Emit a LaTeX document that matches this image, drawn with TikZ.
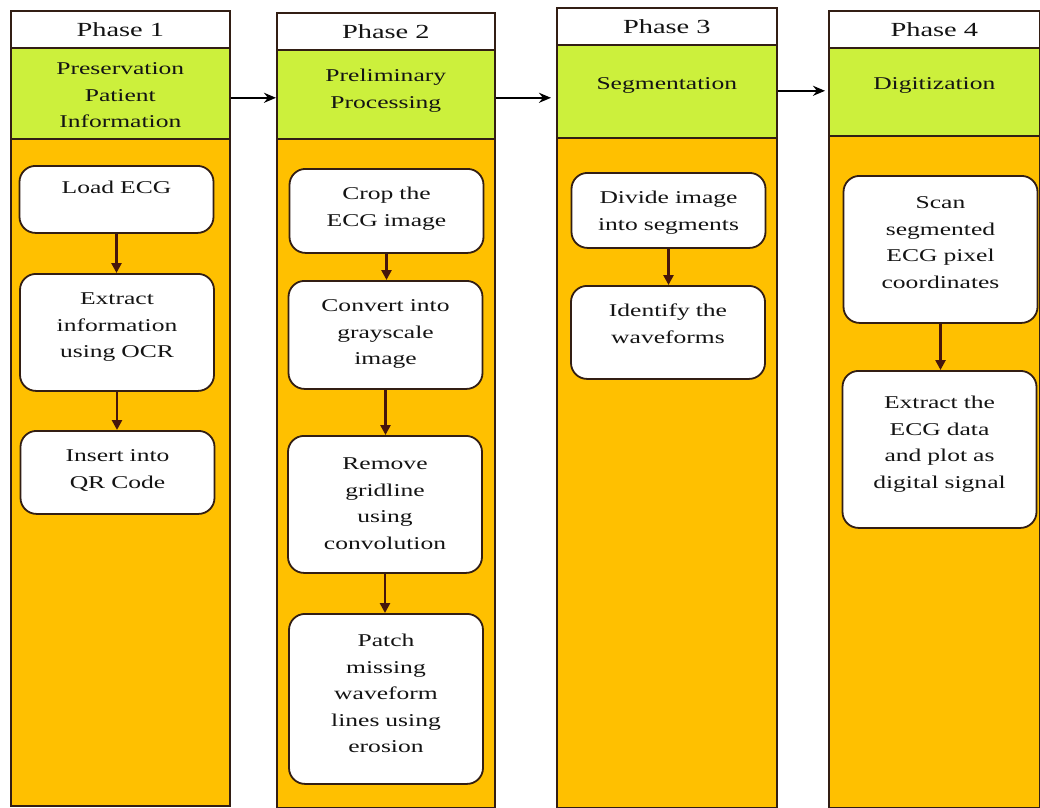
\documentclass[tikz,border=0pt]{standalone}
\usepackage{fontspec}
\setmainfont[FakeStretch=1.42]{Liberation Serif}
\usetikzlibrary{arrows.meta}
\definecolor{lanegold}{RGB}{255,192,0}
\definecolor{stagegreen}{RGB}{204,240,60}
\definecolor{edgebrown}{RGB}{50,30,20}
\definecolor{flowbrown}{RGB}{70,22,12}
\definecolor{inkgray}{RGB}{20,20,20}

\tikzset{
    phase/.style = {draw=edgebrown, fill=white, line width=1.6pt, inner sep=0pt,
                    anchor=north west, minimum height=37pt, text=inkgray,
                    font=\fontsize{20}{24}\selectfont},
    stage/.style = {draw=edgebrown, fill=stagegreen, line width=1.6pt, inner sep=0pt,
                    anchor=north west, align=center, text=inkgray,
                    font=\fontsize{18}{26.5}\selectfont},
    lane/.style  = {draw=edgebrown, fill=lanegold, line width=1.6pt, inner sep=0pt,
                    anchor=north west},
    proc/.style  = {draw=edgebrown, fill=white, line width=1.8pt, rounded corners=16pt,
                    inner sep=0pt, anchor=north, text width=194pt, align=center,
                    text height=31pt, text=inkgray,
                    font=\fontsize{18}{26.5}\selectfont},
    flow/.style  = {draw=flowbrown, line width=2.8pt,
                    -{Triangle[length=10pt, width=10pt]}},
    link/.style  = {draw=black, line width=2.4pt,
                    -{Stealth[length=12pt, width=10pt]}}
}

\begin{document}
\begin{tikzpicture}[x=1pt, y=-1pt]
    \useasboundingbox (0,0) rectangle (1040,807);

    % lanes
    \node[lane, minimum width=219pt, minimum height=667pt] (l1) at (10,138) {};
    \node[lane, minimum width=218pt, minimum height=669pt] (l2) at (276,138) {};
    \node[lane, minimum width=220pt, minimum height=670pt] (l3) at (556,137) {};
    \node[lane, minimum width=211pt, minimum height=672pt] (l4) at (828,135) {};

    % stage titles
    \node[stage, text width=219pt, text height=27pt, text depth=64pt] (s1) at (10,47)
        {Preservation\\Patient\\Information};
    \node[stage, text width=218pt, text height=32pt, text depth=57pt] (s2) at (276,49)
        {Preliminary\\Processing};
    \node[stage, text width=220pt, text height=45pt, text depth=48pt] (s3) at (556,44)
        {Segmentation};
    \node[stage, text width=211pt, text height=44pt, text depth=46pt] (s4) at (828,45)
        {Digitization};

    % phase headers
    \node[phase, minimum width=219pt] (p1) at (10,10) {Phase 1};
    \node[phase, minimum width=218pt] (p2) at (276,12) {Phase 2};
    \node[phase, minimum width=220pt] (p3) at (556,7) {Phase 3};
    \node[phase, minimum width=211pt] (p4) at (828,10) {Phase 4};

    % phase 1
    \node[proc, text height=28pt, text depth=39pt] (load) at (116.5,165) {Load ECG};
    \node[proc, text depth=86pt] (ocr) at (117,273) {Extract\\information\\using OCR};
    \node[proc, text depth=52pt] (qr) at (117.5,430) {Insert into\\QR Code};

    % phase 2
    \node[proc, text depth=53pt] (crop) at (386.5,168) {Crop the\\ECG image};
    \node[proc, text depth=77pt] (gray) at (385.5,280) {Convert into\\grayscale\\image};
    \node[proc, text height=34pt, text depth=103pt] (grid) at (385,435)
        {Remove\\gridline\\using\\convolution};
    \node[proc, text height=33pt, text depth=137pt] (patch) at (386,613)
        {Patch\\missing\\waveform\\lines using\\erosion};

    % phase 3
    \node[proc, text depth=44pt] (divide) at (668.5,172) {Divide image\\into segments};
    \node[proc, text depth=62pt] (wave) at (668,285) {Identify the\\waveforms};

    % phase 4
    \node[proc, text height=33pt, text depth=114pt] (scan) at (940.5,175)
        {Scan\\segmented\\ECG pixel\\coordinates};
    \node[proc, text height=38pt, text depth=119pt] (plot) at (939.5,370)
        {Extract the\\ECG data\\and plot as\\digital signal};

    % arrows inside lanes
    \draw[flow] (load.south) -- (load.south |- ocr.north);
    \draw[flow] (ocr.south) -- (ocr.south |- qr.north);
    \draw[flow] (crop.south) -- (crop.south |- gray.north);
    \draw[flow] (gray.south) -- (gray.south |- grid.north);
    \draw[flow] (grid.south) -- (grid.south |- patch.north);
    \draw[flow] (divide.south) -- (divide.south |- wave.north);
    \draw[flow] (scan.south) -- (scan.south |- plot.north);

    % arrows between phases
    \draw[link] ([yshift=-4.5pt]s1.east) -- ([yshift=-4.5pt]s1.east -| s2.west);
    \draw[link] ([yshift=-3.5pt]s2.east) -- ([yshift=-3.5pt, xshift=-5pt]s2.east -| s3.west);
    \draw[link] ([yshift=0.5pt]s3.east) -- ([yshift=0.5pt, xshift=-3pt]s3.east -| s4.west);
\end{tikzpicture}
\end{document}
